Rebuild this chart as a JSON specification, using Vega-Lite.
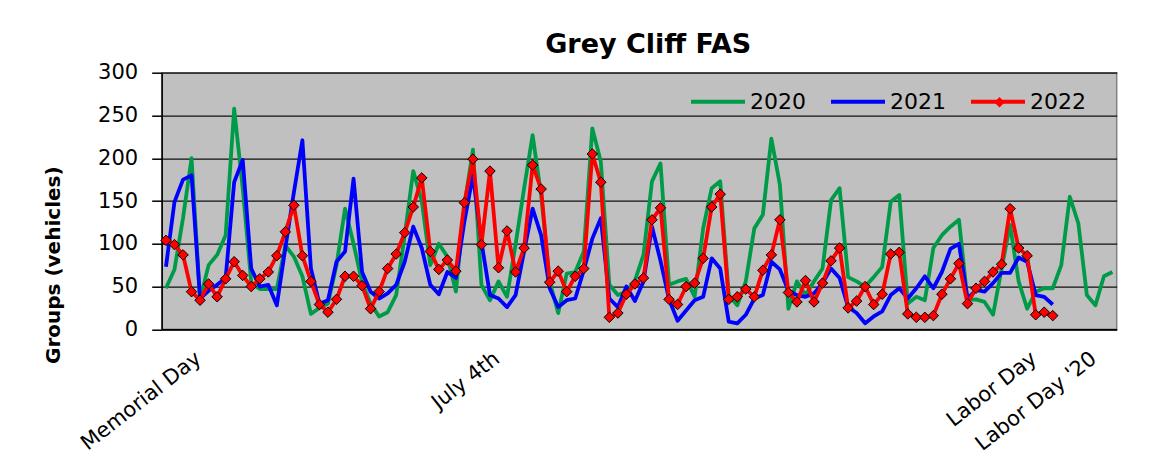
{
"$schema": "https://vega.github.io/schema/vega-lite/v6.json",
"width": 955, "height": 256.6,
"autosize": {"type": "none"},
"padding": {"left": 161.7, "top": 72.7, "right": 51.3, "bottom": 133.7},
"background": "white",
"title": {"text": "Grey Cliff FAS", "font": "DejaVu Sans", "fontSize": 27, "fontWeight": "bold", "color": "black", "anchor": "middle", "frame": "group", "baseline": "alphabetic", "offset": 20, "dx": 9, "dy": 38},
"config": {"view": {"fill": "#C0C0C0", "stroke": "#808080", "strokeWidth": 1.5}, "font": "DejaVu Sans"},
"data": {"values": [
{"day":0,"year":"2020","v":48},{"day":1,"year":"2020","v":70},{"day":2,"year":"2020","v":130},{"day":3,"year":"2020","v":200},{"day":4,"year":"2020","v":35},{"day":5,"year":"2020","v":75},{"day":6,"year":"2020","v":87},{"day":7,"year":"2020","v":110},{"day":8,"year":"2020","v":258},{"day":9,"year":"2020","v":165},{"day":10,"year":"2020","v":55},{"day":11,"year":"2020","v":47},{"day":12,"year":"2020","v":47},{"day":13,"year":"2020","v":47},{"day":14,"year":"2020","v":98},{"day":15,"year":"2020","v":85},{"day":16,"year":"2020","v":62},{"day":17,"year":"2020","v":18},{"day":18,"year":"2020","v":25},{"day":19,"year":"2020","v":30},{"day":20,"year":"2020","v":75},{"day":21,"year":"2020","v":141},{"day":22,"year":"2020","v":100},{"day":23,"year":"2020","v":55},{"day":24,"year":"2020","v":30},{"day":25,"year":"2020","v":15},{"day":26,"year":"2020","v":20},{"day":27,"year":"2020","v":40},{"day":28,"year":"2020","v":110},{"day":29,"year":"2020","v":185},{"day":30,"year":"2020","v":150},{"day":31,"year":"2020","v":75},{"day":32,"year":"2020","v":100},{"day":33,"year":"2020","v":85},{"day":34,"year":"2020","v":44},{"day":35,"year":"2020","v":145},{"day":36,"year":"2020","v":210},{"day":37,"year":"2020","v":52},{"day":38,"year":"2020","v":34},{"day":39,"year":"2020","v":56},{"day":40,"year":"2020","v":38},{"day":41,"year":"2020","v":99},{"day":42,"year":"2020","v":165},{"day":43,"year":"2020","v":227},{"day":44,"year":"2020","v":157},{"day":45,"year":"2020","v":56},{"day":46,"year":"2020","v":19},{"day":47,"year":"2020","v":65},{"day":48,"year":"2020","v":67},{"day":49,"year":"2020","v":91},{"day":50,"year":"2020","v":235},{"day":51,"year":"2020","v":196},{"day":52,"year":"2020","v":52},{"day":53,"year":"2020","v":40},{"day":54,"year":"2020","v":44},{"day":55,"year":"2020","v":57},{"day":56,"year":"2020","v":87},{"day":57,"year":"2020","v":173},{"day":58,"year":"2020","v":194},{"day":59,"year":"2020","v":52},{"day":60,"year":"2020","v":56},{"day":61,"year":"2020","v":59},{"day":62,"year":"2020","v":38},{"day":63,"year":"2020","v":118},{"day":64,"year":"2020","v":165},{"day":65,"year":"2020","v":173},{"day":66,"year":"2020","v":40},{"day":67,"year":"2020","v":28},{"day":68,"year":"2020","v":56},{"day":69,"year":"2020","v":118},{"day":70,"year":"2020","v":134},{"day":71,"year":"2020","v":223},{"day":72,"year":"2020","v":169},{"day":73,"year":"2020","v":24},{"day":74,"year":"2020","v":56},{"day":75,"year":"2020","v":40},{"day":76,"year":"2020","v":56},{"day":77,"year":"2020","v":71},{"day":78,"year":"2020","v":151},{"day":79,"year":"2020","v":165},{"day":80,"year":"2020","v":61},{"day":81,"year":"2020","v":56},{"day":82,"year":"2020","v":50},{"day":83,"year":"2020","v":61},{"day":84,"year":"2020","v":73},{"day":85,"year":"2020","v":149},{"day":86,"year":"2020","v":157},{"day":87,"year":"2020","v":30},{"day":88,"year":"2020","v":38},{"day":89,"year":"2020","v":34},{"day":90,"year":"2020","v":95},{"day":91,"year":"2020","v":110},{"day":92,"year":"2020","v":120},{"day":93,"year":"2020","v":128},{"day":94,"year":"2020","v":34},{"day":95,"year":"2020","v":35},{"day":96,"year":"2020","v":32},{"day":97,"year":"2020","v":17},{"day":98,"year":"2020","v":71},{"day":99,"year":"2020","v":122},{"day":100,"year":"2020","v":56},{"day":101,"year":"2020","v":24},{"day":102,"year":"2020","v":44},{"day":103,"year":"2020","v":48},{"day":104,"year":"2020","v":48},{"day":105,"year":"2020","v":75},{"day":106,"year":"2020","v":155},{"day":107,"year":"2020","v":124},{"day":108,"year":"2020","v":40},{"day":109,"year":"2020","v":28},{"day":110,"year":"2020","v":62},{"day":111,"year":"2020","v":67},
{"day":0,"year":"2021","v":73},{"day":1,"year":"2021","v":149},{"day":2,"year":"2021","v":175},{"day":3,"year":"2021","v":180},{"day":4,"year":"2021","v":36},{"day":5,"year":"2021","v":45},{"day":6,"year":"2021","v":52},{"day":7,"year":"2021","v":60},{"day":8,"year":"2021","v":172},{"day":9,"year":"2021","v":198},{"day":10,"year":"2021","v":71},{"day":11,"year":"2021","v":50},{"day":12,"year":"2021","v":52},{"day":13,"year":"2021","v":28},{"day":14,"year":"2021","v":95},{"day":15,"year":"2021","v":160},{"day":16,"year":"2021","v":221},{"day":17,"year":"2021","v":71},{"day":18,"year":"2021","v":30},{"day":19,"year":"2021","v":34},{"day":20,"year":"2021","v":79},{"day":21,"year":"2021","v":91},{"day":22,"year":"2021","v":176},{"day":23,"year":"2021","v":67},{"day":24,"year":"2021","v":44},{"day":25,"year":"2021","v":36},{"day":26,"year":"2021","v":42},{"day":27,"year":"2021","v":52},{"day":28,"year":"2021","v":79},{"day":29,"year":"2021","v":120},{"day":30,"year":"2021","v":95},{"day":31,"year":"2021","v":52},{"day":32,"year":"2021","v":41},{"day":33,"year":"2021","v":67},{"day":34,"year":"2021","v":60},{"day":35,"year":"2021","v":126},{"day":36,"year":"2021","v":180},{"day":37,"year":"2021","v":102},{"day":38,"year":"2021","v":40},{"day":39,"year":"2021","v":36},{"day":40,"year":"2021","v":26},{"day":41,"year":"2021","v":40},{"day":42,"year":"2021","v":91},{"day":43,"year":"2021","v":141},{"day":44,"year":"2021","v":110},{"day":45,"year":"2021","v":48},{"day":46,"year":"2021","v":26},{"day":47,"year":"2021","v":34},{"day":48,"year":"2021","v":36},{"day":49,"year":"2021","v":69},{"day":50,"year":"2021","v":106},{"day":51,"year":"2021","v":130},{"day":52,"year":"2021","v":36},{"day":53,"year":"2021","v":26},{"day":54,"year":"2021","v":50},{"day":55,"year":"2021","v":33},{"day":56,"year":"2021","v":56},{"day":57,"year":"2021","v":120},{"day":58,"year":"2021","v":80},{"day":59,"year":"2021","v":35},{"day":60,"year":"2021","v":10},{"day":61,"year":"2021","v":22},{"day":62,"year":"2021","v":34},{"day":63,"year":"2021","v":38},{"day":64,"year":"2021","v":83},{"day":65,"year":"2021","v":71},{"day":66,"year":"2021","v":9},{"day":67,"year":"2021","v":7},{"day":68,"year":"2021","v":17},{"day":69,"year":"2021","v":36},{"day":70,"year":"2021","v":40},{"day":71,"year":"2021","v":79},{"day":72,"year":"2021","v":70},{"day":73,"year":"2021","v":45},{"day":74,"year":"2021","v":40},{"day":75,"year":"2021","v":38},{"day":76,"year":"2021","v":42},{"day":77,"year":"2021","v":54},{"day":78,"year":"2021","v":71},{"day":79,"year":"2021","v":60},{"day":80,"year":"2021","v":26},{"day":81,"year":"2021","v":19},{"day":82,"year":"2021","v":7},{"day":83,"year":"2021","v":15},{"day":84,"year":"2021","v":21},{"day":85,"year":"2021","v":40},{"day":86,"year":"2021","v":48},{"day":87,"year":"2021","v":36},{"day":88,"year":"2021","v":48},{"day":89,"year":"2021","v":62},{"day":90,"year":"2021","v":48},{"day":91,"year":"2021","v":67},{"day":92,"year":"2021","v":94},{"day":93,"year":"2021","v":100},{"day":94,"year":"2021","v":36},{"day":95,"year":"2021","v":46},{"day":96,"year":"2021","v":44},{"day":97,"year":"2021","v":54},{"day":98,"year":"2021","v":66},{"day":99,"year":"2021","v":66},{"day":100,"year":"2021","v":84},{"day":101,"year":"2021","v":79},{"day":102,"year":"2021","v":40},{"day":103,"year":"2021","v":38},{"day":104,"year":"2021","v":29},
{"day":0,"year":"2022","v":104},{"day":1,"year":"2022","v":99},{"day":2,"year":"2022","v":87},{"day":3,"year":"2022","v":44},{"day":4,"year":"2022","v":34},{"day":5,"year":"2022","v":53},{"day":6,"year":"2022","v":38},{"day":7,"year":"2022","v":59},{"day":8,"year":"2022","v":79},{"day":9,"year":"2022","v":63},{"day":10,"year":"2022","v":50},{"day":11,"year":"2022","v":59},{"day":12,"year":"2022","v":67},{"day":13,"year":"2022","v":86},{"day":14,"year":"2022","v":114},{"day":15,"year":"2022","v":145},{"day":16,"year":"2022","v":86},{"day":17,"year":"2022","v":56},{"day":18,"year":"2022","v":29},{"day":19,"year":"2022","v":20},{"day":20,"year":"2022","v":35},{"day":21,"year":"2022","v":62},{"day":22,"year":"2022","v":62},{"day":23,"year":"2022","v":51},{"day":24,"year":"2022","v":24},{"day":25,"year":"2022","v":44},{"day":26,"year":"2022","v":71},{"day":27,"year":"2022","v":88},{"day":28,"year":"2022","v":113},{"day":29,"year":"2022","v":143},{"day":30,"year":"2022","v":177},{"day":31,"year":"2022","v":91},{"day":32,"year":"2022","v":70},{"day":33,"year":"2022","v":81},{"day":34,"year":"2022","v":68},{"day":35,"year":"2022","v":148},{"day":36,"year":"2022","v":199},{"day":37,"year":"2022","v":99},{"day":38,"year":"2022","v":185},{"day":39,"year":"2022","v":72},{"day":40,"year":"2022","v":115},{"day":41,"year":"2022","v":67},{"day":42,"year":"2022","v":95},{"day":43,"year":"2022","v":192},{"day":44,"year":"2022","v":164},{"day":45,"year":"2022","v":55},{"day":46,"year":"2022","v":68},{"day":47,"year":"2022","v":44},{"day":48,"year":"2022","v":62},{"day":49,"year":"2022","v":71},{"day":50,"year":"2022","v":205},{"day":51,"year":"2022","v":172},{"day":52,"year":"2022","v":14},{"day":53,"year":"2022","v":19},{"day":54,"year":"2022","v":41},{"day":55,"year":"2022","v":53},{"day":56,"year":"2022","v":60},{"day":57,"year":"2022","v":128},{"day":58,"year":"2022","v":142},{"day":59,"year":"2022","v":35},{"day":60,"year":"2022","v":29},{"day":61,"year":"2022","v":50},{"day":62,"year":"2022","v":54},{"day":63,"year":"2022","v":83},{"day":64,"year":"2022","v":143},{"day":65,"year":"2022","v":158},{"day":66,"year":"2022","v":35},{"day":67,"year":"2022","v":38},{"day":68,"year":"2022","v":47},{"day":69,"year":"2022","v":38},{"day":70,"year":"2022","v":69},{"day":71,"year":"2022","v":87},{"day":72,"year":"2022","v":128},{"day":73,"year":"2022","v":43},{"day":74,"year":"2022","v":32},{"day":75,"year":"2022","v":57},{"day":76,"year":"2022","v":32},{"day":77,"year":"2022","v":54},{"day":78,"year":"2022","v":80},{"day":79,"year":"2022","v":95},{"day":80,"year":"2022","v":25},{"day":81,"year":"2022","v":33},{"day":82,"year":"2022","v":50},{"day":83,"year":"2022","v":29},{"day":84,"year":"2022","v":41},{"day":85,"year":"2022","v":88},{"day":86,"year":"2022","v":90},{"day":87,"year":"2022","v":18},{"day":88,"year":"2022","v":14},{"day":89,"year":"2022","v":14},{"day":90,"year":"2022","v":16},{"day":91,"year":"2022","v":41},{"day":92,"year":"2022","v":59},{"day":93,"year":"2022","v":77},{"day":94,"year":"2022","v":30},{"day":95,"year":"2022","v":48},{"day":96,"year":"2022","v":56},{"day":97,"year":"2022","v":67},{"day":98,"year":"2022","v":76},{"day":99,"year":"2022","v":141},{"day":100,"year":"2022","v":95},{"day":101,"year":"2022","v":86},{"day":102,"year":"2022","v":17},{"day":103,"year":"2022","v":20},{"day":104,"year":"2022","v":16}
]},
"layer": [
{"mark": {"type": "line", "strokeWidth": 3.8, "strokeJoin": "round"},
 "encoding": {
  "x": {"field": "day", "type": "quantitative", "scale": {"domain": [-0.5, 111.5], "nice": false, "zero": false},
   "axis": {"values": [3, 38, 101, 108], "labelExpr": "datum.value == 3 ? 'Memorial Day' : datum.value == 38 ? 'July 4th' : datum.value == 101 ? 'Labor Day' : \"Labor Day '20\"", "labelAngle": -38, "labelAlign": "right", "labelBaseline": "top", "labelPadding": 18, "ticks": false, "grid": false, "domainColor": "black", "domainWidth": 1.5, "labelFont": "DejaVu Sans", "labelFontSize": 21, "labelColor": "black", "title": null, "labelOverlap": false, "labelBound": false, "labelFlush": false}},
  "y": {"field": "v", "type": "quantitative", "scale": {"domain": [0, 300], "nice": false},
   "axis": {"values": [0, 50, 100, 150, 200, 250, 300], "title": "Groups (vehicles)", "titleFont": "DejaVu Sans", "titleFontSize": 20, "titleFontWeight": "bold", "titleColor": "black", "titleX": -108.7, "titleY": 192, "titleAngle": -90, "titleAlign": "center", "titleBaseline": "middle", "labelFont": "DejaVu Sans", "labelFontSize": 21, "labelColor": "black", "labelPadding": 14, "tickSize": 10, "tickColor": "black", "tickWidth": 1.5, "domainColor": "black", "domainWidth": 1.5, "grid": true, "gridColor": "#111111", "gridWidth": 1.2, "gridOpacity": 1, "labelFlush": false, "labelBaseline": "middle"}},
  "color": {"field": "year", "type": "nominal", "scale": {"domain": ["2020", "2021", "2022"], "range": ["#009B48", "#0000FF", "#FF0000"]},
   "legend": {"orient": "none", "legendX": 527.3, "legendY": 0, "direction": "horizontal", "columns": 3, "title": null, "symbolType": "stroke", "symbolSize": 2916, "symbolStrokeWidth": 4, "labelFont": "DejaVu Sans", "labelFontSize": 22, "labelColor": "black", "labelOffset": 3, "columnPadding": 17, "padding": 0, "symbolOpacity": 1}}
 }},
{"transform": [{"filter": "datum.year == '2022'"}],
 "mark": {"type": "point", "filled": true, "fill": "#FF0000", "stroke": "black", "strokeWidth": 1, "size": 110, "opacity": 1},
 "encoding": {
  "x": {"field": "day", "type": "quantitative"},
  "y": {"field": "v", "type": "quantitative"},
  "shape": {"field": "year", "type": "nominal", "scale": {"domain": ["2022"], "range": ["diamond"]},
   "legend": {"orient": "none", "legendX": 831.8, "legendY": 23.5, "title": null, "labelExpr": "''", "symbolSize": 110, "symbolFillColor": "#FF0000", "symbolStrokeColor": "black", "symbolStrokeWidth": 1, "labelFontSize": 1, "labelOffset": 0, "padding": 0}}
 }}
]
}
